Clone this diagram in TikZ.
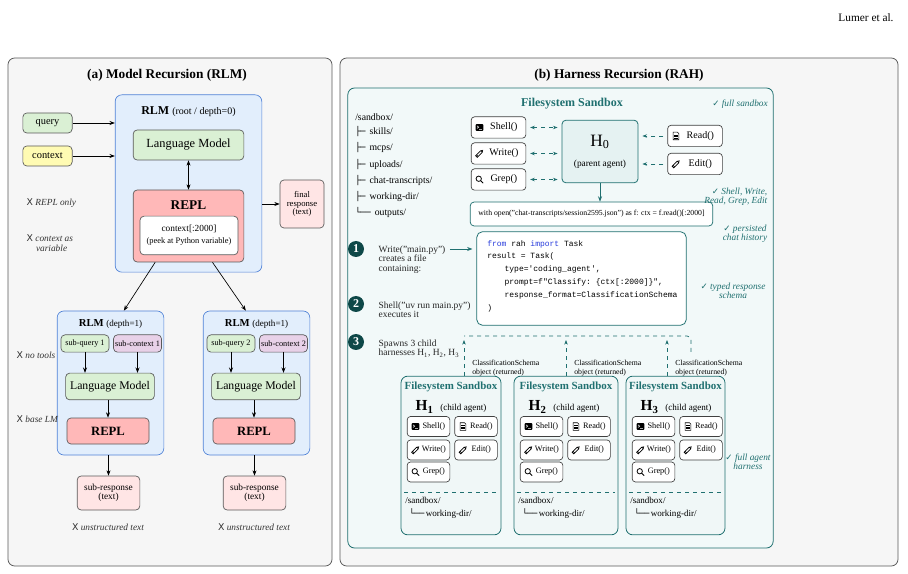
\documentclass[tikz,border=0pt]{standalone}
\usepackage{fontspec}
\setmainfont{Liberation Serif}
\setmonofont{Liberation Mono}
\newfontfamily\sym{DejaVu Sans}
\usetikzlibrary{arrows.meta,positioning,calc}
\definecolor{tealA}{RGB}{32,112,112}
\definecolor{tealD}{RGB}{14,72,72}
\definecolor{kwblue}{RGB}{40,60,220}
\definecolor{blueF}{RGB}{226,238,252}
\definecolor{blueD}{RGB}{80,130,215}
\definecolor{greenF}{RGB}{218,240,212}
\newcommand{\fs}[1]{\fontsize{#1}{#1}\selectfont}
\newcommand{\ok}{{\upshape\sym\fs{6.5}✓}\ }
\newcommand{\no}{{\upshape\sym\fs{7}X}\ }
\tikzset{
  pics/termicon/.style={code={\fill[black,rounded corners=0.6pt] (-3pt,-2.6pt) rectangle (3pt,2.6pt);
    \draw[white,line width=0.4pt] (-2pt,1.3pt) -- (-0.6pt,0.3pt) -- (-2pt,-0.7pt) (-0.3pt,-1.5pt) -- (1.8pt,-1.5pt);}},
  pics/pencilicon/.style={code={\begin{scope}[rotate=45]\draw[line width=0.45pt] (-3.4pt,-0.9pt) rectangle (2.2pt,0.9pt) (2.2pt,-0.9pt) -- (3.6pt,0) -- (2.2pt,0.9pt) (-2.4pt,-0.9pt) -- (-2.4pt,0.9pt);\end{scope}}},
  pics/grepicon/.style={code={\draw[line width=0.6pt] (-0.6pt,0.6pt) circle (2.1pt) (0.9pt,-0.9pt) -- (2.9pt,-2.9pt);}},
  pics/docicon/.style={code={\draw[line width=0.45pt] (-2.3pt,-3pt) -- (2.3pt,-3pt) -- (2.3pt,1.8pt) -- (1.1pt,3pt) -- (-2.3pt,3pt) -- cycle;
    \draw[line width=0.35pt] (-1.3pt,0.8pt) -- (1.3pt,0.8pt) (-1.3pt,-0.4pt) -- (1.3pt,-0.4pt) (-1.3pt,-1.6pt) -- (1.3pt,-1.6pt);}}
}
% tool button: name, x, y, icon, label
\newcommand{\tool}[5]{\node[tool] (#1) at (#2,#3) {\hspace*{8pt}#5};
  \pic[scale=0.95] at ([xshift=6.5pt]#1.west) {#4};}
\begin{document}
\begin{tikzpicture}[x=0.75pt,y=-0.75pt,
    panel/.style={draw=gray!70!black, fill=gray!7, rounded corners=5pt, line width=0.6pt},
    rlm/.style={draw=blueD, fill=blueF, rounded corners=5pt, line width=0.5pt},
    lm/.style={draw=gray!70!black, fill=greenF, rounded corners=3pt, line width=0.5pt},
    repl/.style={draw=gray!70!black, fill=red!28, rounded corners=3pt, line width=0.5pt},
    resp/.style={draw=gray!70!black, fill=red!10, rounded corners=3pt, line width=0.5pt, align=center},
    small/.style={draw=gray!70!black, rounded corners=3pt, line width=0.5pt, inner sep=0pt},
    note/.style={font=\fs{7}\itshape, text=gray!40!black, align=left, anchor=west},
    tnote/.style={font=\fs{7}\itshape, text=tealA, align=center},
    sandbox/.style={draw=tealA, fill=teal!5, rounded corners=5pt, line width=0.6pt},
    tool/.style={draw=black!75, fill=white, rounded corners=2.5pt, line width=0.5pt, inner sep=0pt},
    stepdot/.style={circle, fill=tealD, text=white, font=\fs{9}\bfseries, inner sep=0pt, minimum size=12pt},
    steptext/.style={anchor=north west, align=left, font=\fs{7.1}, text=black!85},
    arr/.style={-{Stealth[length=4pt]}, line width=0.5pt},
    darr/.style={{Stealth[length=3.5pt]}-{Stealth[length=3.5pt]}, dashed, tealA, line width=0.55pt},
    rarr/.style={-{Stealth[length=3.5pt]}, dashed, tealA, line width=0.55pt}
  ]
  \useasboundingbox (0,0) rectangle (908,574);
  \node[font=\fs{8.5}] (author) at (866,18) {Lumer et al.};

  % (a) Model Recursion
  \node[panel, minimum width=243pt, minimum height=381pt] (panelA) at (170,312) {};
  \node[font=\fs{10}\bfseries] (titleA) at (167,75) {(a) Model Recursion (RLM)};
  \node[rlm, minimum width=110pt, minimum height=133pt] (root) at (188.5,183.5) {};
  \node[font=\fs{9}] (rootlbl) at (188.5,112) {\textbf{RLM} {\fs{7.5}(root / depth=0)}};
  \node[lm, minimum width=83pt, minimum height=22.5pt, font=\fs{9.3}] (lm0) at (188.5,145) {Language Model};
  \node[repl, minimum width=83pt, minimum height=54pt] (repl0) at (188.5,226) {};
  \node[font=\fs{10}\bfseries] (repl0lbl) at (188.5,205) {REPL};
  \node[small, fill=white, minimum width=73.5pt, minimum height=29pt, align=center, font=\fs{7}] (peek) at (189,235.5) {context[:2000]\\[2pt]{\fs{6.3}(peek at Python variable)}};
  \node[lm, minimum width=37pt, minimum height=15pt, font=\fs{7.8}] (query) at (47.5,123) {query};
  \node[lm, fill=yellow!30, minimum width=37pt, minimum height=15pt, font=\fs{7.8}] (ctx) at (47.5,156) {context};
  \node[resp, minimum width=33pt, minimum height=36pt, font=\fs{6.5}] (final) at (302,204) {final\\response\\(text)};
  \node[note] (n1) at (22,203) {\no REPL only};
  \node[note] (n2) at (22,243) {\no context as\\\hspace*{7pt}variable};
  \draw[arr] (query) -- (query -| root.west);
  \draw[arr] (ctx) -- (ctx -| root.west);
  \draw[arr, {Stealth[length=4pt]}-{Stealth[length=4pt]}] (lm0) -- (repl0);
  \draw[arr] (root.east |- final) -- (final);

  % depth=1 children
  \foreach \i/\dx in {1/0, 2/146} {
    \node[rlm, minimum width=80pt, minimum height=108pt] (child\i) at (110.5+\dx,383) {};
    \node[font=\fs{8}] (child\i lbl) at (110.5+\dx,324) {\textbf{RLM} {\fs{6.8}(depth=1)}};
    \node[lm, minimum width=36pt, minimum height=13pt, inner sep=0pt, font=\fs{6.2}] (sq\i) at (85+\dx,343.5) {sub-query \i};
    \node[lm, fill=violet!18, minimum width=36pt, minimum height=13pt, inner sep=0pt, font=\fs{6.2}] (sc\i) at (137.5+\dx,343.5) {sub-context \i};
    \node[lm, minimum width=66pt, minimum height=20pt, font=\fs{8.8}] (lm\i) at (110+\dx,386.5) {Language Model};
    \node[repl, minimum width=61.5pt, minimum height=19.5pt, font=\fs{9.5}\bfseries] (repl\i) at (108+\dx,431) {REPL};
    \node[resp, minimum width=47pt, minimum height=25.5pt, font=\fs{7}] (sr\i) at (108.5+\dx,493) {sub-response\\(text)};
    \node[note, anchor=center] (u\i) at (108+\dx,527) {\no unstructured text};
    \draw[arr] (sq\i) -- (sq\i |- lm\i.north);
    \draw[arr] (sc\i) -- (sc\i |- lm\i.north);
    \draw[arr] (lm\i.south -| repl\i) -- (repl\i);
    \draw[arr] (child\i.south -| sr\i) -- (sr\i);
  }
  \draw[arr] ([xshift=-25pt]repl0.south) -- ([xshift=10pt]child1.north);
  \draw[arr] ([xshift=18pt]repl0.south) -- ([xshift=-8pt]child2.north);
  \node[note] (n3) at (12,355) {\no no tools};
  \node[note] (n4) at (12,419) {\no base LM};

  % (b) Harness Recursion
  \node[panel, minimum width=418.5pt, minimum height=381pt] (panelB) at (619,312) {};
  \node[font=\fs{10}\bfseries] (titleB) at (619,75) {(b) Harness Recursion (RAH)};
  \node[sandbox, minimum width=319pt, minimum height=345pt] (sandbox) at (560.5,318) {};
  \node[font=\fs{9}\bfseries, text=tealA] (sbtitle) at (572,104) {Filesystem Sandbox};
  \node[tnote] (okfull) at (740,104) {\ok full sandbox};
  \node[anchor=north west, align=left, font=\fs{7.3}, inner sep=0pt] (tree) at (355,113) {%
    /sandbox/\\[3.5pt]
    {\sym\fs{6.5}├─\,} skills/\\[3.5pt]
    {\sym\fs{6.5}├─\,} mcps/\\[3.5pt]
    {\sym\fs{6.5}├─\,} uploads/\\[3.5pt]
    {\sym\fs{6.5}├─\,} chat-transcripts/\\[3.5pt]
    {\sym\fs{6.5}├─\,} working-dir/\\[3.5pt]
    {\sym\fs{6.5}└──\,} outputs/};
  \node[draw=tealA, fill=teal!10, rounded corners=3pt, line width=0.6pt, minimum width=57pt, minimum height=47pt, align=center] (h0) at (600,151.5) {{\fs{13}H\textsubscript{0}}\\[3pt]{\fs{7}(parent agent)}};
  \begin{scope}[tool/.append style={minimum width=41pt, minimum height=16pt, font=\fs{7.5}}]
    \tool{shell0}{498.5}{127.5}{termicon}{Shell()}
    \tool{write0}{498.5}{153.5}{pencilicon}{Write()}
    \tool{grep0}{498.5}{179.5}{grepicon}{Grep()}
    \tool{read0}{695}{136}{docicon}{Read()}
    \tool{edit0}{695}{164}{pencilicon}{Edit()}
  \end{scope}
  \foreach \t in {shell0, write0, grep0} \draw[darr] ([xshift=3pt]\t.east) -- ([xshift=-3pt]h0.west |- \t);
  \foreach \t in {read0, edit0} \draw[rarr] ([xshift=-3pt]\t.west) -- ([xshift=3pt]h0.east |- \t);
  \node[draw=tealA, fill=white, rounded corners=3pt, line width=0.55pt, minimum width=182pt, minimum height=18pt, font=\fs{5.8}] (cmd) at (591.5,214) {with open("chat-transcripts/session2595.json") as f: ctx = f.read()[:2000]};
  \draw[arr, tealA] (h0.south) -- (h0.south |- cmd.north);
  \node[tnote, anchor=east, align=right] (oktools) at (772,197) {\ok Shell, Write,\\Read, Grep, Edit};
  \node[tnote] (okchat) at (745,234) {\ok persisted\\chat history};

  % steps
  \node[stepdot] (s1) at (356,249) {1};
  \node[steptext] (s1t) at (374,241) {Write("main.py")\\creates a file\\containing:};
  \node[stepdot] (s2) at (356,304) {2};
  \node[steptext] (s2t) at (374,297) {Shell("uv run main.py")\\executes it};
  \node[stepdot] (s3) at (356,342) {3};
  \node[steptext] (s3t) at (374,335) {Spawns 3 child\\harnesses H\textsubscript{1}, H\textsubscript{2}, H\textsubscript{3}};
  \node[draw=tealA, fill=white, rounded corners=4pt, line width=0.6pt, minimum width=157pt, minimum height=70pt] (code) at (581.5,278.5) {};
  \node[anchor=north west, align=left, inner sep=0pt, font=\ttfamily\fs{6}] (codetxt) at (487,240) {%
    \textcolor{kwblue}{from} rah \textcolor{kwblue}{import} Task\\[3.7pt]
    result = Task(\\[3.7pt]
    \hspace*{13pt}type='coding\_agent',\\[3.7pt]
    \hspace*{13pt}prompt=f"Classify: \{ctx[:2000]\}",\\[3.7pt]
    \hspace*{13pt}response\_format=ClassificationSchema\\[3.7pt]
    )};
  \coordinate (codein) at (code.west |- s1);
  \draw[arr, tealA] ([xshift=-20pt]codein) -- ([xshift=-3pt]codein);
  \node[tnote] (okschema) at (733,291) {\ok typed response\\schema};

  % child harnesses
  \foreach \i/\L/\W/\R in {1/401/100/464, 2/514/104/566, 3/626/99/667} {
    \node[sandbox, fill=teal!6, minimum width=0.75pt*\W, minimum height=119pt] (h\i) at (\L+\W/2,455.5) {};
    \node[font=\fs{8.2}\bfseries, text=tealA] (h\i title) at (\L+\W/2,387) {Filesystem Sandbox};
    \node[anchor=west, font=\fs{6.8}] (h\i lbl) at (\L+10,407) {{\fs{11.5}\textbf{H\textsubscript{\i}}}\hspace{5pt}(child agent)};
    \begin{scope}[tool/.append style={minimum width=32pt, minimum height=15pt, font=\fs{6.2}}]
      \tool{shell\i}{\L+27.5}{426.5}{termicon}{Shell()}
      \tool{read\i}{\L+75}{426.5}{docicon}{Read()}
      \tool{write\i}{\L+27.5}{450}{pencilicon}{Write()}
      \tool{edit\i}{\L+75}{450}{pencilicon}{Edit()}
      \tool{grep\i}{\L+27.5}{472}{grepicon}{Grep()}
    \end{scope}
    \draw[dashed, tealA, line width=0.55pt] (\L+3,492) -- (\L+\W-3,492);
    \node[anchor=north west, align=left, font=\fs{6.8}, inner sep=0pt] (h\i tree) at (\L+4,497) {/sandbox/\\[3pt]\hspace*{3pt}{\sym\fs{6.3}└──\,}working-dir/};
    \coordinate (ret\i) at (\R,340);
    \draw[rarr] (h\i.north -| ret\i) -- (ret\i);
    \node[anchor=west, align=left, font=\fs{5.8}, inner sep=0pt] (ret\i lbl) at ([xshift=6pt,yshift=-21pt]ret\i) {ClassificationSchema\\[1pt]object (returned)};
  }
  \coordinate (retend) at (691,352);
  \draw[dashed, tealA, line width=0.55pt, rounded corners=3pt] (retend) |- ([yshift=3pt]ret1);
  \node[tnote] (okfullh) at (748,462) {\ok full agent\\harness};
\end{tikzpicture}
\end{document}
